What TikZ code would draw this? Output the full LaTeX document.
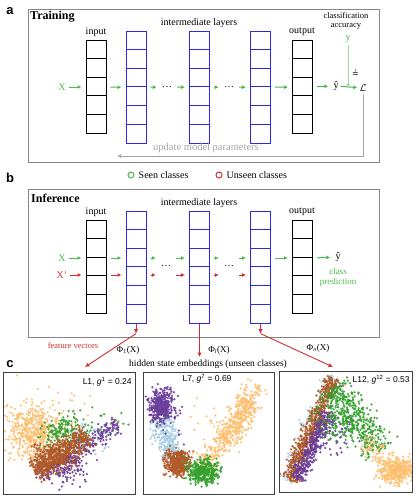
\documentclass[tikz,border=0pt]{standalone}
\usepackage{fontspec}
\setmainfont{Liberation Serif}
\newfontfamily\plotfont{Liberation Sans}
\newfontfamily\symfont{DejaVu Sans}
\usetikzlibrary{arrows.meta,positioning}

\definecolor{seen}{RGB}{76,185,76}
\definecolor{unseen}{RGB}{208,48,48}
\definecolor{hidden}{RGB}{40,40,240}
\definecolor{frame}{RGB}{135,135,135}
\definecolor{upd}{RGB}{165,165,165}
\definecolor{cOrange}{HTML}{FDBF6F}
\definecolor{cBrown}{HTML}{B15928}
\definecolor{cGreen}{HTML}{33A02C}
\definecolor{cPurple}{HTML}{6A3D9A}
\definecolor{cBlue}{HTML}{A6CEE3}

\tikzset{
  panel/.style={draw=frame, line width=0.8pt},
  lbl/.style={font=\fontsize{10}{12}\selectfont, inner sep=1pt},
  small/.style={font=\fontsize{8.5}{9}\selectfont, inner sep=1pt},
  title/.style={font=\fontsize{12}{14}\selectfont\bfseries, inner sep=0pt, anchor=west},
  letter/.style={font=\fontsize{13}{14}\selectfont\plotfont\bfseries, inner sep=0pt},
  garrow/.style={seen, line width=1pt, -{Latex[length=4pt,width=4pt]}, shorten <=4pt, shorten >=4pt},
  rarrow/.style={unseen, line width=0.9pt, -{Latex[length=4.5pt,width=4.5pt]}},
  updarrow/.style={upd, line width=1pt, -{Latex[length=4pt,width=4pt]}},
  plotbox/.style={draw=black!75, line width=0.9pt, inner sep=0pt, anchor=north west},
  plotlbl/.style={font=\fontsize{8.5}{10}\selectfont\plotfont, inner sep=0pt},
  dot/.style={fill opacity=0.9}
}

% one column of cells: name, centre x, top y, cells, colour
\newcommand\layer[5]{%
  \node[draw=#5, line width=1pt, minimum width=20pt, minimum height=#4*18.6pt,
        inner sep=0pt, anchor=north] (#1) at (#2,#3) {};
  \foreach \k in {2,...,#4}
    \draw[#5, line width=1pt] (#1.north west) ++(0,{(\k-1)*18.6}) -- ++(20,0);
}

% gaussian cloud: colour, n, cx, cy, sx, sy
\newcommand\blob[6]{%
  \foreach \i in {1,...,#2}{%
    \pgfmathsetmacro\bx{#3+(#5)*(rand+rand+rand)}%
    \pgfmathsetmacro\by{#4+(#6)*(rand+rand+rand)}%
    \fill[dot,#1] (\bx,\by) circle[radius=1.25pt];
  }}

% cloud along a segment: colour, n, x1, y1, x2, y2, width
\newcommand\band[7]{%
  \foreach \i in {1,...,#2}{%
    \pgfmathsetmacro\bt{0.5+0.5*rand}%
    \pgfmathsetmacro\bn{(#7)*(rand+rand+rand)}%
    \pgfmathsetmacro\bl{veclen(#5-#3,#6-#4)}%
    \pgfmathsetmacro\bx{#3+(\bt)*(#5-#3)-(\bn)*(#6-#4)/(\bl)}%
    \pgfmathsetmacro\by{#4+(\bt)*(#6-#4)+(\bn)*(#5-#3)/(\bl)}%
    \fill[dot,#1] (\bx,\by) circle[radius=1.25pt];
  }}

\begin{document}
\begin{tikzpicture}[x=1pt, y=-1pt]
\useasboundingbox (0,0) rectangle (416,501);
\pgfmathsetseed{17}

% ---- a: training
\node[letter] at (10,11) {a};
\draw[panel] (28,9) rectangle (379,162);
\node[title] at (30,17) {Training};
\node[lbl] at (199,23) {intermediate layers};
\node[lbl] at (96,32) {input};
\node[lbl] at (302,32) {output};

\layer{inA}{96}{40}{5}{black}
\layer{hA1}{136}{31}{6}{hidden}
\layer{hA2}{199.5}{31}{6}{hidden}
\layer{hA3}{260.5}{31}{6}{hidden}
\layer{outA}{302.5}{40}{5}{black}

\node[lbl, seen] (xA) at (62,87) {X};
\node[lbl] (dotsA1) at (167,87) {\dots};
\node[lbl] (dotsA2) at (229,87) {\dots};
\node[lbl] (yhatA) at (336,86) {ŷ};
\node[lbl] (lossA) at (363,88) {$\mathcal{L}$};
\node[lbl, seen] (yA) at (348,39) {y};
\node[small, align=center] at (346,21) {classification\\accuracy};
\node[font=\fontsize{8}{8}\selectfont\symfont, inner sep=0pt] at (355.5,73) {≟};

\draw[garrow, shorten <=2pt] (xA) -- (inA);
\draw[garrow] (inA) -- (hA1);
\draw[garrow] (hA1) -- (dotsA1);
\draw[garrow] (dotsA1) -- (hA2);
\draw[garrow] (hA2) -- (dotsA2);
\draw[garrow] (dotsA2) -- (hA3);
\draw[garrow] (hA3) -- (outA);
\draw[garrow] (outA) -- (yhatA);
\draw[garrow, shorten <=1pt, shorten >=1pt] (yhatA) -- (lossA);
\draw[seen!55, line width=1pt, -{Latex[length=4pt,width=4pt]}, shorten <=1pt] (yA) -- (yA |- lossA);

\coordinate (updend) at (117,156);
\draw[updarrow, shorten <=1pt] (lossA.south) |- (updend);
\node[font=\fontsize{10.5}{12}\selectfont, upd, inner sep=0pt] at (206,148) {update model parameters};

% ---- b: inference
\node[letter] at (10,178) {b};
\node[circle, draw=seen, line width=1pt, minimum size=6pt, inner sep=0pt] (seenmark) at (131,175) {};
\node[lbl, right=3pt of seenmark] {Seen classes};
\node[circle, draw=unseen, line width=1pt, minimum size=6pt, inner sep=0pt] (unseenmark) at (219,175) {};
\node[lbl, right=3pt of unseenmark] {Unseen classes};

\draw[panel] (28,189) rectangle (379,337);
\node[title] at (31,198) {Inference};
\node[lbl] at (199,203) {intermediate layers};
\node[lbl] at (96,212) {input};
\node[lbl] at (302,212) {output};

\layer{inB}{96}{220}{5}{black}
\layer{hB1}{136}{211}{6}{hidden}
\layer{hB2}{199.5}{211}{6}{hidden}
\layer{hB3}{260.5}{211}{6}{hidden}
\layer{outB}{302.5}{220}{5}{black}

\node[lbl, seen] (xB) at (62,258) {X};
\node[lbl, unseen] (xpB) at (62,275) {X’};
\node[lbl] (dotsB1) at (166,266) {\dots};
\node[lbl] (dotsB2) at (229,266) {\dots};
\node[lbl] (yhatB) at (338,257) {ŷ};
\node[small, seen, align=center, font=\fontsize{9}{10}\selectfont] at (338,277) {class\\prediction};

\draw[garrow, shorten <=2pt] (xB) -- (xB -| inB.west);
\draw[garrow] (inB.east |- xB) -- (hB1.west |- xB);
\draw[garrow] (hB1.east |- xB) -- (dotsB1.west |- xB);
\draw[garrow] (dotsB1.east |- xB) -- (hB2.west |- xB);
\draw[garrow] (hB2.east |- xB) -- (dotsB2.west |- xB);
\draw[garrow] (dotsB2.east |- xB) -- (hB3.west |- xB);
\draw[garrow] (hB3.east |- xB) -- (outB.west |- xB);
\draw[garrow] (outB.east |- xB) -- (yhatB);

\begin{scope}[every path/.append style={garrow, unseen}]
\draw[shorten <=2pt] (xpB) -- (xpB -| inB.west);
\draw (inB.east |- xpB) -- (hB1.west |- xpB);
\draw (hB1.east |- xpB) -- (dotsB1.west |- xpB);
\draw (dotsB1.east |- xpB) -- (hB2.west |- xpB);
\draw (hB2.east |- xpB) -- (dotsB2.west |- xpB);
\draw (dotsB2.east |- xpB) -- (hB3.west |- xpB);
\end{scope}

% ---- feature read-out
\coordinate (f1) at ([yshift=-10pt]hB1.south);
\coordinate (f3) at ([yshift=-10pt]hB3.south);
\coordinate (t1) at (85,367);
\coordinate (t2) at (199.5,357);
\coordinate (t3) at (333,367);
\draw[rarrow] (hB1.south) -- (f1);
\draw[rarrow] (f1) -- (t1);
\draw[rarrow] (hB2.south) -- (t2);
\draw[rarrow] (hB3.south) -- (f3);
\draw[rarrow] (f3) -- (t3);

\node[small, unseen] at (73,346) {feature vectors};
\node[lbl, font=\fontsize{9}{10}\selectfont] at (128,350) {Φ\textsubscript{1}(X)};
\node[lbl, font=\fontsize{9}{10}\selectfont] at (219,350) {Φ\textsubscript{\itshape l}(X)};
\node[lbl, font=\fontsize{9}{10}\selectfont] at (318,348) {Φ\textsubscript{\itshape n}(X)};

% ---- c: embeddings
\node[letter] at (10,364) {c};
\node[lbl, font=\fontsize{9.5}{11}\selectfont] at (208,364) {hidden state embeddings (unseen classes)};

% layer 1
\begin{scope}
\clip (3,372) rectangle (135,494);
\blob{cOrange}{90}{40}{420}{24}{20}
\blob{cOrange}{420}{32}{432}{12}{13}
\blob{cBlue}{70}{88}{438}{9}{7}
\blob{cGreen}{150}{62}{432}{11}{9}
\blob{cGreen}{30}{92}{425}{15}{8}
\band{cPurple}{250}{40}{476}{118}{424}{5}
\blob{cPurple}{140}{66}{468}{12}{8}
\band{cBrown}{480}{34}{472}{88}{434}{6}
\blob{cBrown}{200}{55}{456}{11}{7}
\end{scope}
\node[plotbox, minimum width=132pt, minimum height=122pt] (pl1) at (3,372) {};
\node[plotlbl, anchor=north east] at ([xshift=-4pt,yshift=-5pt]pl1.north east) {L1, \textit{g}\textsuperscript{1} = 0.24};

% layer 7
\begin{scope}
\clip (143,372) rectangle (274,494);
\band{cBlue}{260}{160}{418}{173}{458}{6}
\band{cOrange}{140}{198}{470}{228}{440}{5}
\band{cOrange}{320}{226}{442}{250}{400}{6.5}
\band{cOrange}{70}{244}{405}{258}{384}{5}
\blob{cOrange}{40}{222}{428}{15}{14}
\blob{cPurple}{380}{161}{406}{6}{8}
\blob{cPurple}{20}{172}{420}{12}{10}
\blob{cBrown}{420}{178}{463}{6}{6}
\blob{cGreen}{360}{203}{472}{8}{6}
\end{scope}
\node[plotbox, minimum width=131pt, minimum height=122pt] (pl2) at (143,372) {};
\node[plotlbl] at (207,379) {L7, \textit{g}\textsuperscript{7} = 0.69};

% layer 12
\begin{scope}
\clip (279,371) rectangle (412,492);
\band{cBlue}{170}{287}{482}{334}{376}{5.5}
\band{cBrown}{650}{289}{480}{334}{378}{4.5}
\band{cPurple}{360}{297}{480}{329}{412}{4}
\blob{cPurple}{70}{334}{436}{12}{9}
\band{cGreen}{360}{334}{386}{380}{452}{8}
\blob{cGreen}{150}{340}{418}{12}{12}
\band{cOrange}{70}{364}{440}{392}{466}{5}
\blob{cOrange}{380}{397}{471}{8}{6}
\end{scope}
\node[plotbox, minimum width=133pt, minimum height=121pt] (pl3) at (279,371) {};
\node[plotlbl, anchor=north east] at ([xshift=-3pt,yshift=-4pt]pl3.north east) {L12, \textit{g}\textsuperscript{12} = 0.53};
\end{tikzpicture}
\end{document}
